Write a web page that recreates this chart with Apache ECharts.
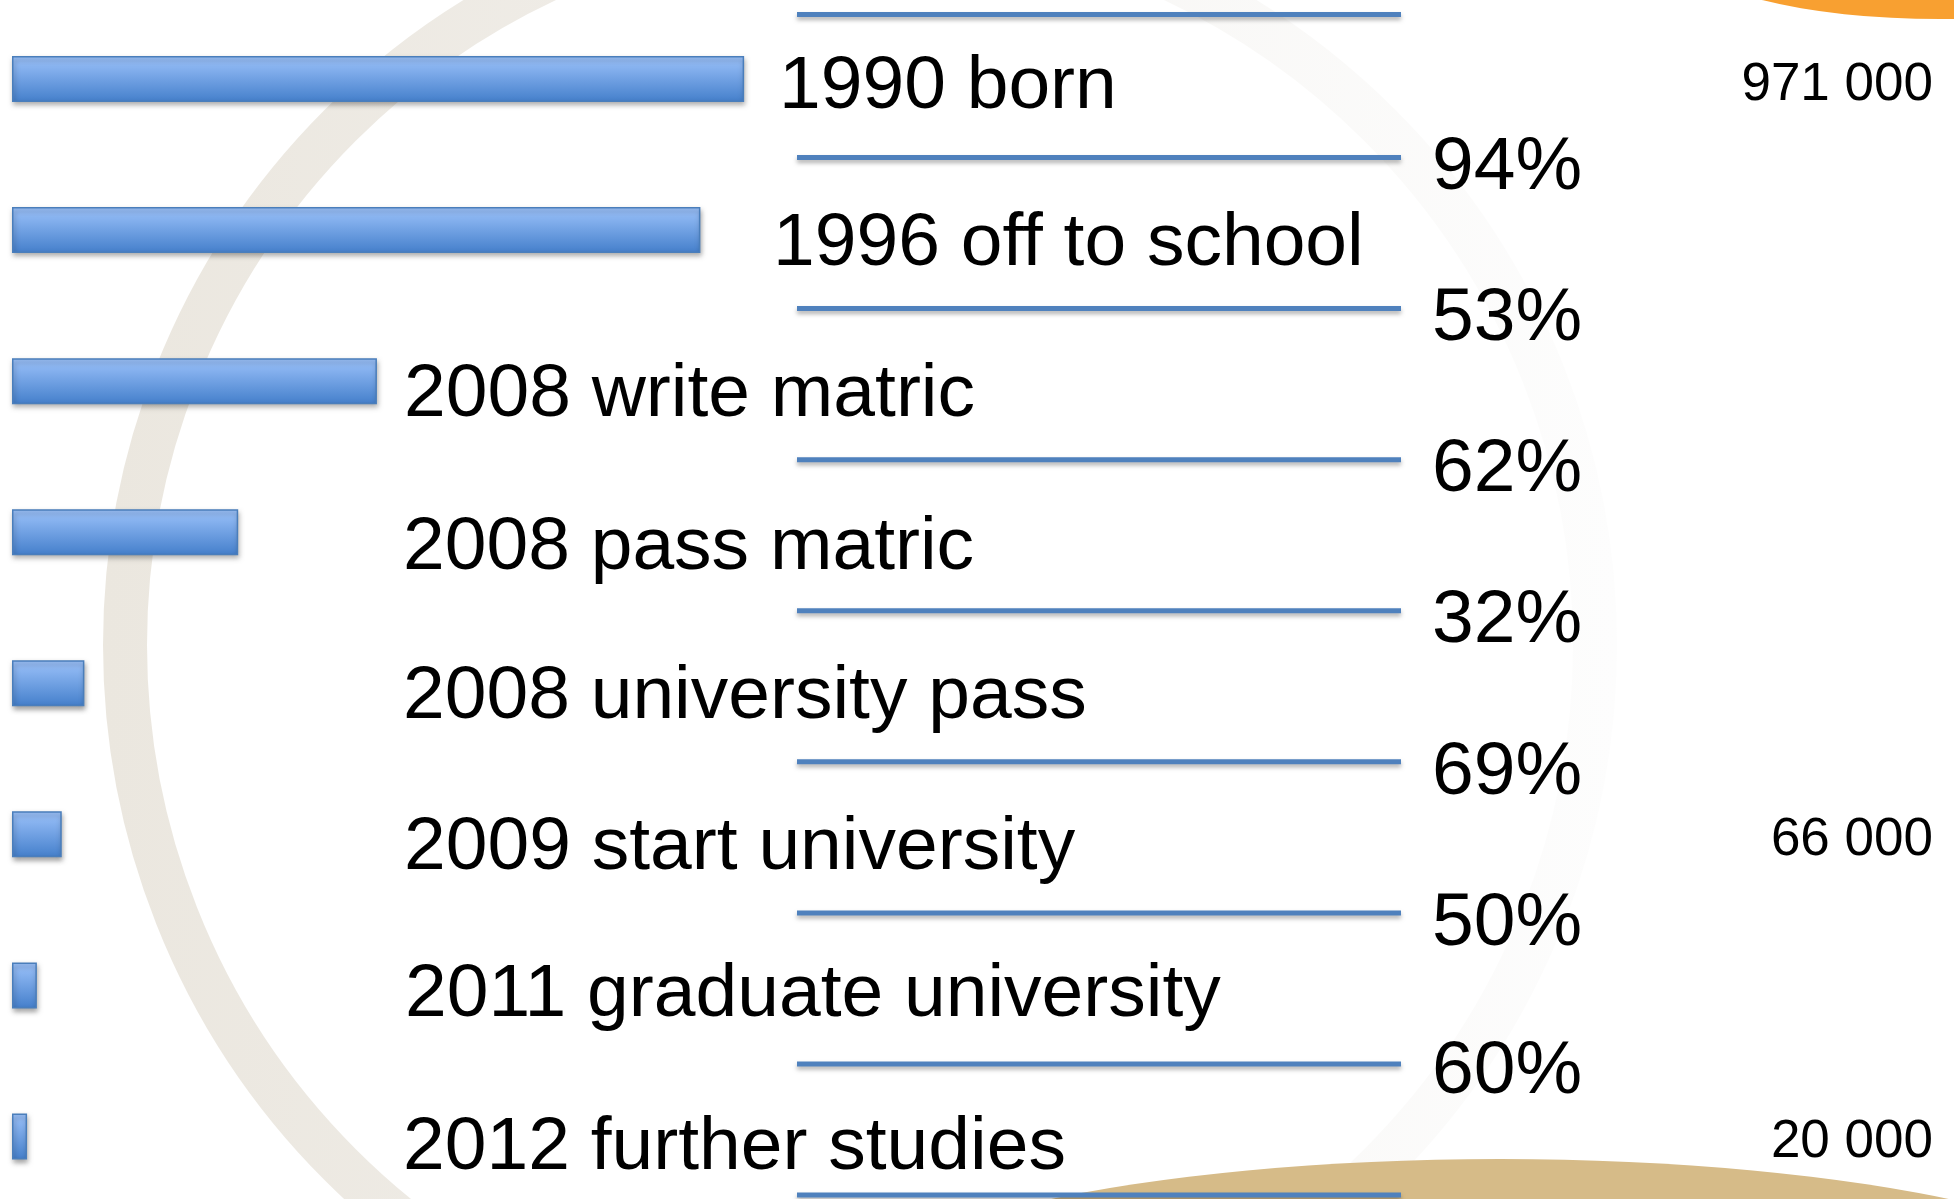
<!DOCTYPE html>
<html>
<head>
<meta charset="utf-8">
<script src="https://cdn.jsdelivr.net/npm/echarts@6/dist/echarts.min.js"></script>
<style>
  html, body { margin: 0; padding: 0; background: #fff; }
  #chart { width: 1954px; height: 1199px; }
</style>
</head>
<body>
<div id="chart"></div>
<script>
// stages of the cohort, people left at each one
var stages = ['1990 born', '1996 off to school', '2008 write matric', '2008 pass matric',
  '2008 university pass', '2009 start university', '2011 graduate university', '2012 further studies'];
var students = [971000, 913000, 484000, 300000, 96000, 66000, 33000, 20000];
// share kept from one stage to the next
var passRates = [94, 53, 62, 32, 69, 50, 60];
// stages whose head count is printed on the right
var totalsShown = [0, 5, 7];

// layout only
var nameLeft = [779, 773, 404, 403, 403, 404, 405, 403];
var nameDy = [8, 14, 14, 16, 14, 14, 10, 12];
var FONT = '"Liberation Sans", Arial, Helvetica, sans-serif';
var gridLeft = 12;
var barH = 46;

function spaced(n) {
  return String(n).replace(/\B(?=(\d{3})+(?!\d))/g, ' ');
}

var myChart = echarts.init(document.getElementById('chart'));

// one line per gap between stages, plus one above and one below
var gaps = [];
for (var k = 0; k <= stages.length; k++) {
  gaps.push([0, Math.min(k, stages.length - 1)]);
}

function renderGap(params, api) {
  var k = params.dataIndex;
  var y0 = api.coord([0, 0])[1];
  var band = api.size([0, 1])[1];
  var y = y0 + (k - 0.5) * band + 3;
  if (k === 0) y += 8;
  if (k === stages.length) y -= 20;
  var kids = [{
    type: 'line',
    shape: { x1: 797, y1: y, x2: 1401, y2: y },
    style: {
      stroke: '#4f81bd', lineWidth: 5,
      shadowBlur: 4, shadowOffsetY: 3, shadowColor: 'rgba(0,0,0,0.3)'
    }
  }];
  if (k > 0 && k < stages.length) {
    kids.push({
      type: 'text',
      x: 1432, y: y + (k === stages.length - 1 ? 8 : 11),
      style: {
        text: passRates[k - 1] + '%',
        fontSize: 75, fontFamily: FONT, fill: '#000',
        align: 'left', verticalAlign: 'middle',
        textAlign: 'left', textVerticalAlign: 'middle'
      }
    });
  }
  return { type: 'group', children: kids };
}

var option = {
  animation: false,
  backgroundColor: '#ffffff',
  graphic: [
    {
      type: 'circle', silent: true, z: 0,
      shape: { cx: 860, cy: 645, r: 735 },
      style: {
        fill: 'none', lineWidth: 44,
        stroke: {
          type: 'linear', x: 0, y: 0, x2: 1, y2: 0,
          colorStops: [
            { offset: 0, color: '#ebe7df' },
            { offset: 0.4, color: '#f0ede8' },
            { offset: 0.65, color: '#f8f7f5' },
            { offset: 1, color: '#fdfdfd' }
          ]
        }
      }
    },
    {
      type: 'circle', silent: true, z: 0,
      shape: { cx: 0, cy: 0, r: 250 },
      x: 1940, y: -45, scaleY: 64 / 250,
      style: { fill: '#f8a031' }
    },
    {
      type: 'circle', silent: true, z: 0,
      shape: { cx: 0, cy: 0, r: 660 },
      x: 1500, y: 1309, scaleY: 150 / 660,
      style: { fill: '#d6bb88' }
    }
  ],
  grid: { left: gridLeft, top: 79, width: 754, height: 1057.5 },
  xAxis: { type: 'value', min: 0, max: 1000000, show: false },
  yAxis: { type: 'category', data: stages, inverse: true, boundaryGap: false, show: false },
  series: [
    {
      type: 'bar',
      barWidth: barH,
      clip: false,
      z: 3,
      data: students.map(function (v, i) {
        return { value: v, label: { position: [nameLeft[i] - gridLeft, barH / 2 + nameDy[i]] } };
      }),
      itemStyle: {
        color: new echarts.graphic.LinearGradient(0, 0, 0, 1, [
          { offset: 0, color: '#9dc3fb' },
          { offset: 1, color: '#447fcb' }
        ]),
        borderColor: '#4a7ebb',
        borderWidth: 1.5,
        shadowBlur: 5,
        shadowOffsetY: 3,
        shadowOffsetX: 1,
        shadowColor: 'rgba(0,0,0,0.35)'
      },
      label: {
        show: true,
        formatter: function (p) { return stages[p.dataIndex]; },
        fontSize: 75,
        fontFamily: FONT,
        color: '#000',
        align: 'left',
        verticalAlign: 'middle'
      }
    },
    {
      type: 'bar',
      barWidth: barH,
      barGap: '-100%',
      clip: false,
      silent: true,
      z: 3,
      itemStyle: { color: 'rgba(0,0,0,0)' },
      data: students.map(function (v, i) {
        return { value: v, label: { show: totalsShown.indexOf(i) >= 0 } };
      }),
      label: {
        position: [1933 - gridLeft, barH / 2 + 6],
        formatter: function (p) { return spaced(p.value); },
        fontSize: 53,
        fontFamily: FONT,
        color: '#000',
        align: 'right',
        verticalAlign: 'middle'
      }
    },
    {
      type: 'custom',
      clip: false,
      silent: true,
      z: 4,
      renderItem: renderGap,
      encode: { x: 0, y: 1 },
      data: gaps
    }
  ]
};

myChart.setOption(option);
</script>
</body>
</html>
